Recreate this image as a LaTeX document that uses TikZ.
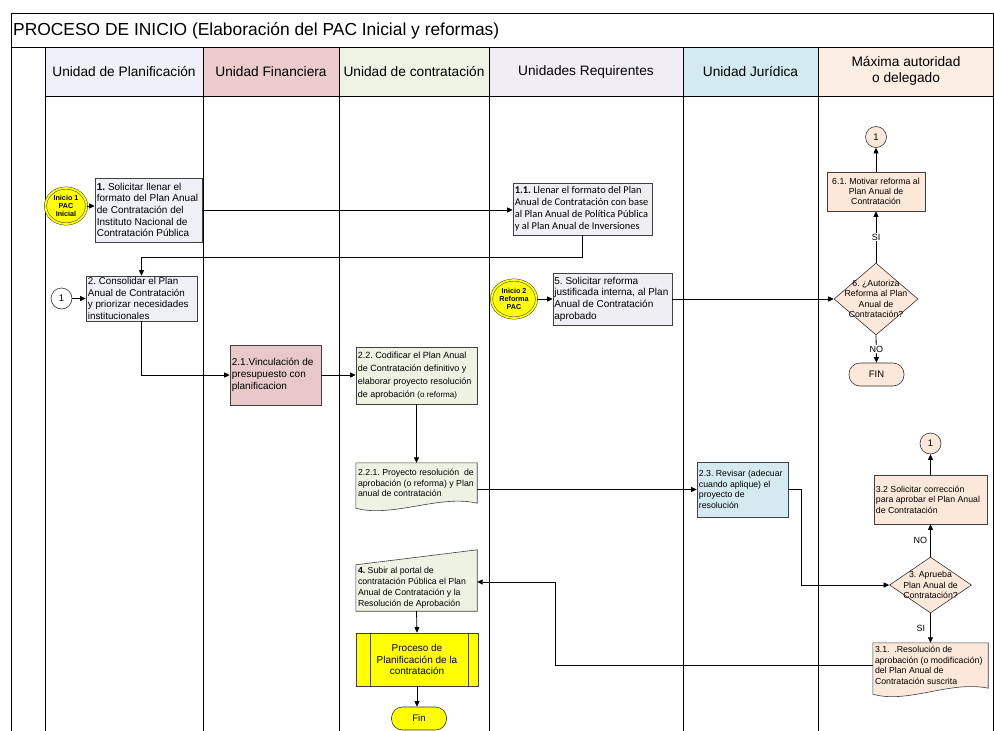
\documentclass[tikz,border=0pt]{standalone}
\usepackage{fontspec}
\setmainfont{Liberation Sans}
\newfontfamily\calib{Carlito}
\usetikzlibrary{arrows.meta,shapes.geometric,shadows,calc,backgrounds}
\frenchspacing

% lane and shape colours
\definecolor{hplan}{HTML}{EEF1F7}
\definecolor{hfina}{HTML}{EBCBCB}
\definecolor{hcont}{HTML}{EEF3E3}
\definecolor{hrequ}{HTML}{F0EEF4}
\definecolor{hjuri}{HTML}{D3EAF0}
\definecolor{hmaxa}{HTML}{FDEEE3}
\definecolor{bplan}{HTML}{EEF0F6}
\definecolor{bfina}{HTML}{E8C8C8}
\definecolor{bcont}{HTML}{EEF2E2}
\definecolor{brequ}{HTML}{EFEEF3}
\definecolor{bjuri}{HTML}{D4EAF0}
\definecolor{peach}{HTML}{FCE8DA}
\definecolor{amar}{HTML}{FFFF00}

\tikzset{
  lane/.style={line width=1pt, draw=black},
  hdr/.style={font=\fontsize{13.7}{16.5}\selectfont, align=center, inner sep=0pt},
  box/.style={draw=black!75, line width=0.6pt, inner sep=0pt,
    drop shadow={shadow xshift=1.1pt, shadow yshift=-1.1pt, fill=black!55, opacity=1}},
  bx/.style n args={2}{minimum width=#1pt, minimum height=#2pt},
  lt/.style={anchor=west, align=left, inner sep=0pt, xshift=2pt},
  ct/.style={anchor=center, align=center, inner sep=0pt},
  txtA/.style={font=\fontsize{10}{11.7}\selectfont},
  txtS/.style={font=\fontsize{8.75}{10.5}\selectfont},
  arr/.style={line width=0.8pt, -{Triangle[length=5.5pt,width=5pt]}},
  lbl/.style={font=\fontsize{9}{10}\selectfont, inner sep=1pt},
  conn/.style={circle, draw=black!80, line width=0.6pt, minimum size=21pt, inner sep=0pt,
    font=\fontsize{9.5}{10}\selectfont},
  ini/.style={ellipse, draw=black!75, line width=0.5pt, double=amar, double distance=1.8pt,
    fill=amar, inner sep=0pt, align=center, font=\bfseries\fontsize{7.2}{7.9}\selectfont},
  term/.style={rectangle, rounded corners=11pt, draw=black!80, line width=0.6pt,
    minimum width=55pt, minimum height=23pt, inner sep=0pt, font=\fontsize{9.5}{10}\selectfont},
  dia/.style={diamond, draw=black!80, line width=0.6pt, inner sep=0pt, fill=peach},
  shapeline/.style={draw=black!75, line width=0.6pt},
}

\begin{document}
\begin{tikzpicture}[x=1pt,y=-1pt]
\useasboundingbox (0,0) rectangle (994,731);

% header cells
\fill[hplan] (45,47) rectangle (203,96);
\fill[hfina] (203,47) rectangle (339,96);
\fill[hcont] (339,47) rectangle (489,96);
\fill[hrequ] (489,47) rectangle (683,96);
\fill[hjuri] (683,47) rectangle (818,96);
\fill[hmaxa] (818,47) rectangle (994,96);

% frame and lanes
\draw[lane] (11,735) -- (11,13) -- (993.5,13) -- (993.5,735);
\draw[lane] (11,47) -- (994,47);
\draw[lane] (45,96) -- (994,96);
\foreach \x in {45,203,339,489,683,818} \draw[lane] (\x,47) -- (\x,735);

\node[anchor=west, inner sep=0pt, font=\fontsize{17.4}{20}\selectfont] (title) at (13,31)
  {PROCESO DE INICIO (Elaboración del PAC Inicial y reformas)};

\node[hdr] (h1) at (124,72) {Unidad de Planificación};
\node[hdr] (h2) at (271,72) {Unidad Financiera};
\node[hdr] (h3) at (414,72) {Unidad de contratación};
\node[hdr] (h4) at (586,72) {Unidades Requirentes};
\node[hdr] (h5) at (750.5,72) {Unidad Jurídica};
\node[hdr] (h6) at (906,71) {Máxima autoridad\\o delegado};

% Unidad de Planificación
\node[ini, minimum width=41pt, minimum height=36pt] (ini1) at (66,206) {Inicio 1\\PAC\\Inicial};
\node[box, fill=bplan, bx={107}{64},
  label={[lt, txtA]west:{\textbf{1.} Solicitar llenar el\\formato del Plan Anual\\de Contratación del\\Instituto Nacional de\\Contratación Pública}}] (n1) at (148.5,210) {};
\node[conn, fill=white] (c1l) at (61.5,298.5) {1};
\node[box, fill=bplan, bx={111}{45},
  label={[lt, font=\fontsize{9.8}{11.7}\selectfont]west:{2. Consolidar el Plan\\Anual de Contratación\\y priorizar necesidades\\institucionales}}] (n2) at (141.5,298.5) {};

% Unidad Financiera
\node[box, fill=bfina, bx={91}{60},
  label={[lt, txtA]west:{2.1.Vinculación de\\presupuesto con\\planificacion}}] (n21) at (275.5,375) {};

% Unidad de contratación
\node[box, fill=bcont, bx={121}{57},
  label={[lt, font=\fontsize{9}{13}\selectfont]west:{2.2. Codificar el Plan Anual\\de Contratación definitivo y\\elaborar proyecto resolución\\de aprobación {\fontsize{8}{13}\selectfont(o reforma)}}}] (n22) at (416.5,375.5) {};
\node[inner sep=0pt, bx={121}{40},
  label={[lt, txtS]west:{2.2.1. Proyecto resolución\ \ de\\aprobación (o reforma) y Plan\\anual de contratación}}] (n221) at (416.5,483) {};
\node[inner sep=0pt, bx={121}{46},
  label={[lt, font=\fontsize{8.75}{11}\selectfont]west:{\textbf{4.} Subir al portal de\\contratación Pública el Plan\\Anual de Contratación y la\\Resolución de Aprobación}}] (n4) at (416.5,588) {};
\node[box, fill=amar, bx={122}{53},
  label={[ct, txtA]center:{Proceso de\\Planificación de la\\contratación}}] (proc) at (417,659.5) {};
\draw[shapeline] ($(proc.north west)+(15,0)$) -- ($(proc.south west)+(15,0)$);
\draw[shapeline] ($(proc.north east)+(-10,0)$) -- ($(proc.south east)+(-10,0)$);
\node[term, fill=amar] (fin2) at (419,718.5) {Fin};

% Unidades Requirentes
\node[box, fill=brequ, bx={139}{52},
  label={[lt, font=\calib\fontsize{10.4}{12}\selectfont]west:{\textbf{1.1.} Llenar el formato del Plan\\Anual de Contratación con base\\al Plan Anual de Política Pública\\y al Plan Anual de Inversiones}}] (n11) at (582.5,209) {};
\node[ini, minimum width=45pt, minimum height=38pt] (ini2) at (514,299) {Inicio 2\\Reforma\\PAC};
\node[box, fill=brequ, bx={119}{52},
  label={[lt, txtA, xshift=-0.5pt]west:{5. Solicitar reforma\\justificada interna, al Plan\\Anual de Contratación\\aprobado}}] (n5) at (612.5,299) {};

% Unidad Jurídica
\node[box, fill=bjuri, bx={91}{55},
  label={[lt, font=\fontsize{8.75}{10.7}\selectfont]west:{2.3. Revisar (adecuar\\cuando aplique) el\\proyecto de\\resolución}}] (n23) at (742.5,489.5) {};

% Máxima autoridad o delegado
\node[conn, fill=peach] (c1a) at (876,137) {1};
\node[box, fill=peach, bx={98}{39},
  label={[ct, font=\fontsize{8.75}{9.8}\selectfont]center:{6.1. Motivar reforma al\\Plan Anual de\\Contratación}}] (n61) at (876,191.5) {};
\node[dia, minimum width=84pt, minimum height=72pt,
  label={[ct, txtS]center:{6. ¿Autoriza\\Reforma al Plan\\Anual de\\Contratación?}}] (d6) at (876,299) {};
\node[term, fill=peach] (fin1) at (876.5,374.5) {FIN};

\node[conn, fill=peach] (c1b) at (930.5,443.5) {1};
\node[box, fill=peach, bx={113}{49},
  label={[lt, txtS]west:{3.2 Solicitar corrección\\para aprobar el Plan Anual\\de Contratación}}] (n32) at (930.5,499.5) {};
\node[dia, minimum width=82pt, minimum height=56pt,
  label={[ct, txtS]center:{3. Aprueba\\Plan Anual de\\Contratación?}}] (d3) at (930.5,585) {};
\node[inner sep=0pt, bx={115}{45},
  label={[lt, txtS]west:{3.1.\ \ .Resolución de\\aprobación (o modificación)\\del Plan Anual de\\Contratación suscrita}}] (n31) at (930.5,665.5) {};

% outlines of the document and manual-input shapes
\begin{pgfonlayer}{background}
  \filldraw[shapeline, fill=bcont] (n221.north west) -- (n221.north east) -- (n221.south east)
    .. controls ($(n221.south east)+(-37,-9)$) and ($(n221.south west)+(36,15)$) .. ($(n221.south west)+(0,5)$) -- cycle;
  \filldraw[shapeline, fill=peach] (n31.north west) -- (n31.north east) -- (n31.south east)
    .. controls ($(n31.south east)+(-38,-8)$) and ($(n31.south west)+(35,16)$) .. ($(n31.south west)+(0,6)$) -- cycle;
  \filldraw[shapeline, fill=bcont] (n4.south west) -- (n4.north west) -- ($(n4.north east)+(0,-15)$)
    -- (n4.south east) -- cycle;
\end{pgfonlayer}

% connectors
\draw[arr] (ini1.east) -- (ini1.east -| n1.west);
\draw[arr] (n1.east) -- (n1.east -| n11.west);
\draw[arr] (n11.south) -- ++(0,22) -| (n2.north);
\draw[arr] (c1l.east) -- (c1l.east -| n2.west);
\draw[arr] (n2.south) |- (n21.west);
\draw[arr] (n21.east) -- (n21.east -| n22.west);
\draw[arr] (n22.south) -- (n221.north);
\draw[arr] (n23.west -| n221.east) -- (n23.west);
\draw[arr] (n23.east) -- ++(13,0) |- (d3.west);
\draw[arr] (ini2.east) -- (n5.west);
\draw[arr] (n5.east) -- (d6.west);
\draw[arr] (d6.north) -- node[lbl, fill=white] {SI} (n61.south);
\draw[arr] (n61.north) -- (c1a.south);
\draw[arr] (d6.south) -- node[lbl, fill=white] {NO} (fin1.north);
\draw[arr] (d3.north) -- node[lbl, left=2pt] {NO} (n32.south);
\draw[arr] (n32.north) -- (c1b.south);
\draw[arr] (d3.south) -- node[lbl, left=4pt] {SI} (n31.north);
\draw[arr] (n31.west) -- ++(-317,0) |- ($(n4.east)+(0,-6)$);
\draw[arr] (n4.south) -- (proc.north);
\draw[arr] (proc.south) -- (proc.south |- fin2.north);
\end{tikzpicture}
\end{document}
